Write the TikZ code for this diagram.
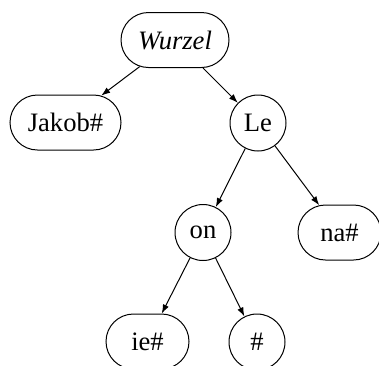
\documentclass[tikz,border=0pt]{standalone}
\usepackage{fontspec}
\setmainfont{Liberation Serif}
\usetikzlibrary{shapes.misc,arrows.meta}
\begin{document}
\begin{tikzpicture}[x=0.5pt,y=-0.5pt,
  every node/.style={font=\fontsize{13.3}{16}\selectfont, line width=0.5pt, inner sep=0pt},
  pill/.style={draw, rounded rectangle, minimum height=27.5pt},
  ball/.style={draw, circle, minimum size=28pt},
  link/.style={line width=0.5pt, -{Latex[length=4.5pt,width=3.2pt]}}]
  \useasboundingbox (0,0) rectangle (379,365);
  % trie nodes
  \node[pill, minimum width=54pt]   (root)  at (175,40)    {\itshape Wurzel};
  \node[pill, minimum width=55.5pt] (jakob) at (65.5,122.5) {Jakob\#};
  \node[ball]                       (le)    at (258,123)   {Le};
  \node[ball]                       (on)    at (203,232.5) {on};
  \node[pill, minimum width=41.5pt] (na)    at (339.5,232.5) {na\#};
  \node[pill, minimum width=41.5pt] (ie)    at (147.5,341.5) {ie\#};
  \node[ball]                       (hash)  at (257,342)   {\#};
  % edges
  \draw[link] (root) -- (jakob);
  \draw[link] (root) -- (le);
  \draw[link] (le) -- (on);
  \draw[link] (le) -- (na);
  \draw[link] (on) -- (ie);
  \draw[link] (on) -- (hash);
\end{tikzpicture}
\end{document}
